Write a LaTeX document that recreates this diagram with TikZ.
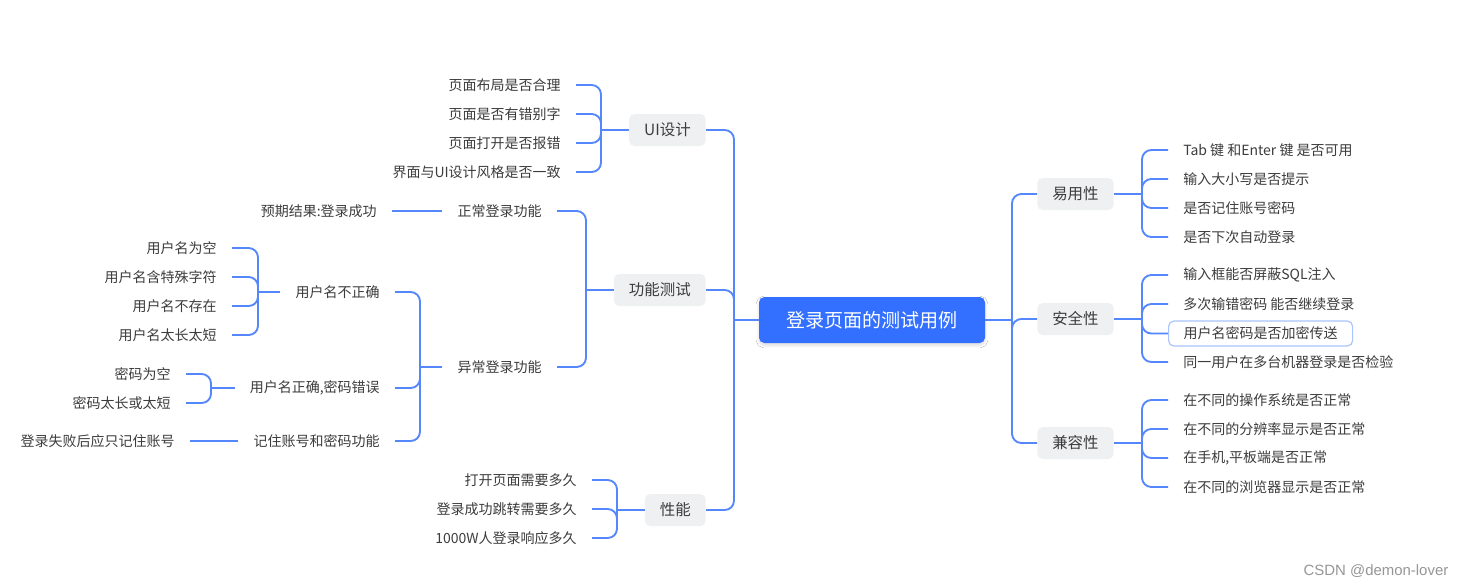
\documentclass[tikz,border=0pt]{standalone}
\usepackage{fontspec}
\setmainfont{Noto Sans CJK SC}
\newfontfamily\wmfont{Liberation Sans}
\usetikzlibrary{shadows.blur}
\definecolor{lb}{RGB}{84,135,252}
\definecolor{rootblue}{RGB}{51,112,255}
\definecolor{catgray}{RGB}{239,240,242}
\definecolor{txt}{RGB}{60,60,60}
\definecolor{hl}{RGB}{170,196,255}
\definecolor{wm}{RGB}{150,150,150}
\begin{document}
\begin{tikzpicture}[x=0.75pt,y=-0.75pt,
  conn/.style={draw=lb,line width=1.4pt,rounded corners=7pt},
  leafL/.style={anchor=east,inner xsep=11.25pt,inner ysep=2pt,font=\fontsize{10.5pt}{12pt}\selectfont,text=txt},
  leafR/.style={anchor=west,inner xsep=11.25pt,inner ysep=2pt,font=\fontsize{10.5pt}{12pt}\selectfont,text=txt},
  catL/.style={anchor=east,fill=catgray,rounded corners=4pt,inner xsep=11.25pt,minimum height=24pt,font=\fontsize{11.6pt}{13pt}\selectfont,text=txt},
  catR/.style={anchor=west,fill=catgray,rounded corners=4pt,inner xsep=11.25pt,minimum height=24pt,font=\fontsize{11.6pt}{13pt}\selectfont,text=txt},
  rootbox/.style={fill=rootblue,rounded corners=4pt,minimum width=169.5pt,minimum height=34.5pt,font=\fontsize{14.3pt}{16pt}\selectfont,text=white,blur shadow={shadow xshift=0pt,shadow yshift=-1.5pt,shadow blur steps=6,shadow opacity=15}}
]
\useasboundingbox[fill=white] (0,0) rectangle (1467,587);

% root
\node[rootbox] (root) at (872,320) {登录页面的测试用例};
\coordinate (jL) at (734,320);
\coordinate (jR) at (1012,320);

% left categories
\node[catL] (ui) at (706,130) {UI设计};
\node[catL] (gn) at (706,290) {功能测试};
\node[catL] (xn) at (706,510) {性能};

\draw[conn] (root.west) -- (jL);
\draw[conn] (jL) |- (ui.east);
\draw[conn] (jL) |- (gn.east);
\draw[conn] (jL) |- (xn.east);

% UI leaves
\coordinate (jUI) at (601,130);
\node[leafL] (u1) at (576,85) {页面布局是否合理};
\node[leafL] (u2) at (576,114) {页面是否有错别字};
\node[leafL] (u3) at (576,143) {页面打开是否报错};
\node[leafL] (u4) at (576,172) {界面与UI设计风格是否一致};
\draw[conn] (ui.west) -- (jUI);
\foreach \n in {u1,u2,u3,u4} \draw[conn] (jUI) |- (\n.east);

% functional tests
\coordinate (jF) at (586,290);
\node[leafL] (zc) at (557,211) {正常登录功能};
\node[leafL] (yc) at (557,367) {异常登录功能};
\draw[conn] (gn.west) -- (jF);
\draw[conn] (jF) |- (zc.east);
\draw[conn] (jF) |- (yc.east);

\node[leafL] (yq) at (392,211) {预期结果:登录成功};
\draw[conn] (zc.west) -- (yq.east);

\coordinate (jY) at (420,367);
\node[leafL] (un) at (395,292) {用户名不正确};
\node[leafL] (up) at (395,388) {用户名正确,密码错误};
\node[leafL] (rm) at (395,441) {记住账号和密码功能};
\draw[conn] (yc.west) -- (jY);
\foreach \n in {un,up,rm} \draw[conn] (jY) |- (\n.east);

\coordinate (jU) at (258,292);
\node[leafL] (n1) at (232,248) {用户名为空};
\node[leafL] (n2) at (232,277) {用户名含特殊字符};
\node[leafL] (n3) at (232,306) {用户名不存在};
\node[leafL] (n4) at (232,335) {用户名太长太短};
\draw[conn] (un.west) -- (jU);
\foreach \n in {n1,n2,n3,n4} \draw[conn] (jU) |- (\n.east);

\coordinate (jP) at (211,388);
\node[leafL] (p1) at (186,374) {密码为空};
\node[leafL] (p2) at (186,403) {密码太长或太短};
\draw[conn] (up.west) -- (jP);
\foreach \n in {p1,p2} \draw[conn] (jP) |- (\n.east);

\node[leafL] (dl) at (190,441) {登录失败后应只记住账号};
\draw[conn] (rm.west) -- (dl.east);

% performance
\coordinate (jN) at (617,510);
\node[leafL] (x1) at (592,480) {打开页面需要多久};
\node[leafL] (x2) at (592,509) {登录成功跳转需要多久};
\node[leafL] (x3) at (592,538) {1000W人登录响应多久};
\draw[conn] (xn.west) -- (jN);
\foreach \n in {x1,x2,x3} \draw[conn] (jN) |- (\n.east);

% right categories
\node[catR] (yy) at (1037,194) {易用性};
\node[catR] (aq) at (1037,319) {安全性};
\node[catR] (jr) at (1037,443) {兼容性};
\draw[conn] (root.east) -- (jR);
\draw[conn] (jR) |- (yy.west);
\draw[conn] (jR) |- (aq.west);
\draw[conn] (jR) |- (jr.west);

\coordinate (jA) at (1142,194);
\node[leafR] (a1) at (1168,150) {Tab 键 和Enter 键 是否可用};
\node[leafR] (a2) at (1168,179) {输入大小写是否提示};
\node[leafR] (a3) at (1168,208) {是否记住账号密码};
\node[leafR] (a4) at (1168,237) {是否下次自动登录};
\draw[conn] (yy.east) -- (jA);
\foreach \n in {a1,a2,a3,a4} \draw[conn] (jA) |- (\n.west);

\coordinate (jB) at (1142,319);
\node[leafR] (b1) at (1168,275) {输入框能否屏蔽SQL注入};
\node[leafR] (b2) at (1168,304) {多次输错密码 能否继续登录};
\node[leafR,draw=hl,line width=0.9pt,rounded corners=4pt,minimum height=18.75pt] (b3) at (1168,333.5) {用户名密码是否加密传送};
\node[leafR] (b4) at (1168,362) {同一用户在多台机器登录是否检验};
\draw[conn] (aq.east) -- (jB);
\foreach \n in {b1,b2,b3,b4} \draw[conn] (jB) |- (\n.west);

\coordinate (jC) at (1142,443);
\node[leafR] (c1) at (1168,400) {在不同的操作系统是否正常};
\node[leafR] (c2) at (1168,429) {在不同的分辨率显示是否正常};
\node[leafR] (c3) at (1168,458) {在手机,平板端是否正常};
\node[leafR] (c4) at (1168,487) {在不同的浏览器显示是否正常};
\draw[conn] (jr.east) -- (jC);
\foreach \n in {c1,c2,c3,c4} \draw[conn] (jC) |- (\n.west);

% watermark
\node[text=wm,font=\wmfont\fontsize{11.2pt}{13pt}\selectfont] (wmk) at (1376,571) {CSDN @demon-lover};
\end{tikzpicture}
\end{document}
